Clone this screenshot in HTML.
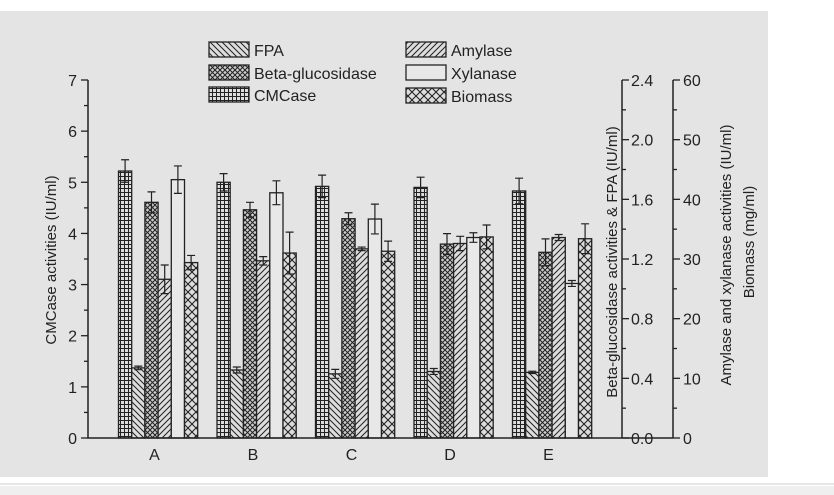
<!DOCTYPE html>
<html><head><meta charset="utf-8"><style>
body{margin:0;background:#fff;width:834px;height:495px;overflow:hidden;font-family:"Liberation Sans",sans-serif}
</style></head><body>
<svg width="834" height="495" style="position:absolute;left:0;top:0">
<defs>
<pattern id="pFPA" width="6" height="6" patternUnits="userSpaceOnUse"><rect width="6" height="6" fill="#ddd"/><path d="M-1,-1 L7,7 M-1,5 L1,7 M5,-1 L7,1" stroke="#222" stroke-width="1"/></pattern>
<pattern id="pAmy" width="6" height="6" patternUnits="userSpaceOnUse"><rect width="6" height="6" fill="#ddd"/><path d="M-1,7 L7,-1 M-1,1 L1,-1 M5,7 L7,5" stroke="#222" stroke-width="1"/></pattern>
<pattern id="pBeta" width="5" height="5" patternUnits="userSpaceOnUse"><rect width="5" height="5" fill="#ccc"/><path d="M0,0 L5,5 M5,0 L0,5" stroke="#222" stroke-width="1"/></pattern>
<pattern id="pCMC" width="4" height="4" patternUnits="userSpaceOnUse"><rect width="4" height="4" fill="#ddd"/><path d="M0,0.5 H4 M0.5,0 V4" stroke="#222" stroke-width="1"/></pattern>
<pattern id="pBio" width="8" height="8" patternUnits="userSpaceOnUse"><rect width="8" height="8" fill="#ddd"/><path d="M0,0 L8,8 M8,0 L0,8" stroke="#222" stroke-width="1.1"/></pattern>
</defs>
<rect x="0" y="11" width="768" height="466" fill="#e4e4e4"/>
<line x1="0" y1="484" x2="834" y2="484" stroke="#ccc"/>
<rect x="0" y="486" width="834" height="9" fill="#efefef"/>
<g id="marks"></g>
<g id="axes" font-size="16" fill="#222"></g>
<g id="legend" font-size="16" fill="#222"></g>
</svg>
<script>
const categories=["A","B","C","D","E"];
const cmcase=[5.22,5.0,4.92,4.9,4.83];
const cmcaseErr=[0.22,0.17,0.22,0.2,0.25];
const fpa=[0.47,0.456,0.43,0.446,0.44];
const fpaErr=[0.012,0.02,0.03,0.02,0.008];
const beta=[1.58,1.53,1.47,1.30,1.245];
const betaErr=[0.07,0.05,0.04,0.07,0.09];
const amylase=[26.6,29.7,31.7,32.6,33.6];
const amylaseErr=[2.4,0.7,0.3,1.2,0.5];
const xylanase=[43.3,41.1,36.7,33.6,25.9];
const xylanaseErr=[2.3,2.0,2.5,0.8,0.5];
const biomass=[29.4,31.0,31.3,33.7,33.4];
const biomassErr=[1.2,3.5,1.7,2.0,2.5];
const leftTicks=[0,1,2,3,4,5,6,7];
const r1Ticks=[0,0.4,0.8,1.2,1.6,2.0,2.4];
const r2Ticks=[0,10,20,30,40,50,60];

const y0=438,yTop=80,H=y0-yTop;
const yL=v=>y0-v/7*H, yR1=v=>y0-v/2.4*H, yR2=v=>y0-v/60*H;
const xGroup=i=>414-98.5*3+98.5*i;
const bw=13.2;
const NS="http://www.w3.org/2000/svg";
function el(t,a,p){const e=document.createElementNS(NS,t);for(const k in a)e.setAttribute(k,a[k]);p.appendChild(e);return e;}
const marks=document.getElementById('marks'),axes=document.getElementById('axes'),leg=document.getElementById('legend');
const series=[
 {n:'cmcase',v:cmcase,e:cmcaseErr,f:'url(#pCMC)',y:yL},
 {n:'fpa',v:fpa,e:fpaErr,f:'url(#pFPA)',y:yR1},
 {n:'beta-glucosidase',v:beta,e:betaErr,f:'url(#pBeta)',y:yR1},
 {n:'amylase',v:amylase,e:amylaseErr,f:'url(#pAmy)',y:yR2},
 {n:'xylanase',v:xylanase,e:xylanaseErr,f:'#e8e8e8',y:yR2},
 {n:'biomass',v:biomass,e:biomassErr,f:'url(#pBio)',y:yR2}];
categories.forEach((c,i)=>{
 series.forEach((s,j)=>{
  const x=xGroup(i)+j*bw, yt=s.y(s.v[i]);
  const r=el('rect',{x:x,y:yt,width:bw,height:y0-yt,fill:s.f,stroke:'#222','stroke-width':1.3},marks);
  
  
  const cx=x+bw/2,ya=s.y(s.v[i]+s.e[i]),yb=s.y(s.v[i]-s.e[i]);
  const g=el('path',{d:`M${cx},${ya}V${yb}M${cx-4},${ya}H${cx+4}M${cx-4},${yb}H${cx+4}`,stroke:'#222','stroke-width':1.2,fill:'none'},marks);
  
  
 });
 const t=el('text',{x:xGroup(i)+36,y:460,'text-anchor':'middle'},axes);t.textContent=c;
 
 
});
el('path',{d:`M88,${yTop}V${y0}H673`,stroke:'#222','stroke-width':1.5,fill:'none'},axes);
el('path',{d:`M622,${yTop}V${y0}M673,${yTop}V${y0}`,stroke:'#222','stroke-width':1.5,fill:'none'},axes);
for(let v=0;v<=7;v+=0.5){const y=yL(v);el('line',{x1:88,x2:v%1?84:81,y1:y,y2:y,stroke:'#222','stroke-width':1.3},axes);}
leftTicks.forEach(v=>{const t=el('text',{x:77,y:yL(v)+6,'text-anchor':'end'},axes);t.textContent=v;
 
 });
for(let v=0;v<=2.41;v+=0.2){const y=yR1(v);el('line',{x1:622,x2:(Math.round(v*10)%4)?626:629,y1:y,y2:y,stroke:'#222','stroke-width':1.3},axes);}
r1Ticks.forEach(v=>{const t=el('text',{x:631,y:yR1(v)+6},axes);t.textContent=v.toFixed(1);
 
 });
for(let v=0;v<=60;v+=5){const y=yR2(v);el('line',{x1:673,x2:v%10?677:680,y1:y,y2:y,stroke:'#222','stroke-width':1.3},axes);}
r2Ticks.forEach(v=>{const t=el('text',{x:683,y:yR2(v)+6},axes);t.textContent=v;
 
 });
function vtitle(txt,x,y,name){const t=el('text',{x:x,y:y,transform:`rotate(-90 ${x} ${y})`,'text-anchor':'middle','font-size':15},axes);t.textContent=txt;
 
 }
vtitle('CMCase  activities (IU/ml)',56,260,'y-left-title');
vtitle('Beta-glucosidase activities  & FPA (IU/ml)',617,262,'y-right1-title');
vtitle('Amylase and xylanase  activities (IU/ml)',731,255,'y-right2-title');
vtitle('Biomass (mg/ml)',754,242,'y-right3-title');
const legItems=[['FPA','url(#pFPA)',209,42],['Beta-glucosidase','url(#pBeta)',209,65],['CMCase','url(#pCMC)',209,87],
 ['Amylase','url(#pAmy)',406,42],['Xylanase','#e8e8e8',406,65],['Biomass','url(#pBio)',406,88]];
legItems.forEach(l=>{
 const r=el('rect',{x:l[2],y:l[3],width:40,height:15,fill:l[1],stroke:'#222','stroke-width':1.3},leg);
 
 
 const t=el('text',{x:l[2]+45,y:l[3]+14},leg);t.textContent=l[0];
 
 
});
</script>
</body></html>
